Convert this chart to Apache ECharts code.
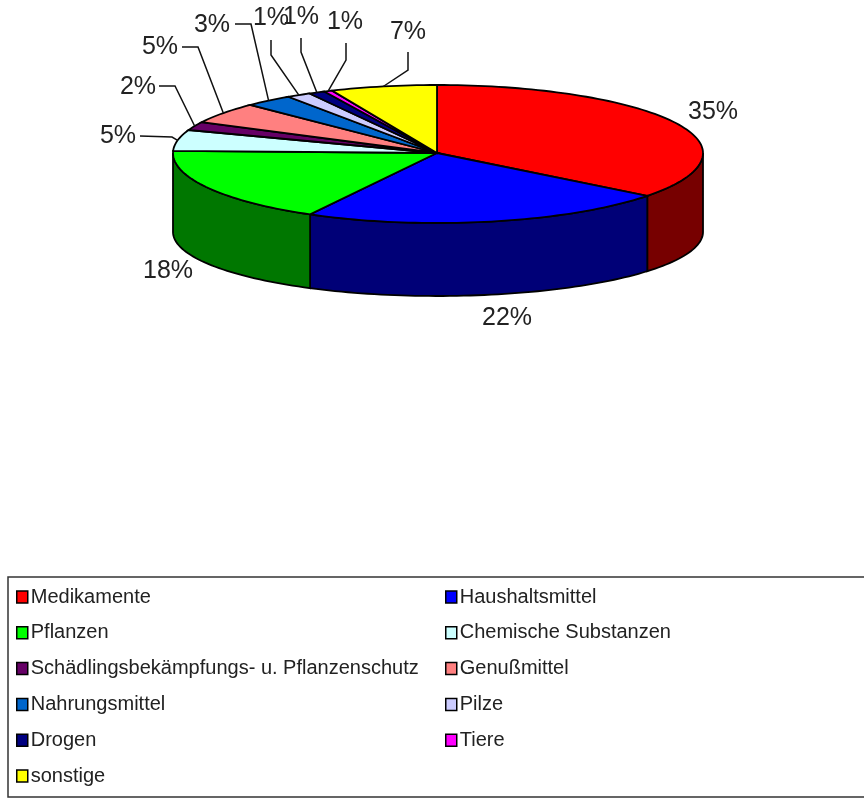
<!DOCTYPE html>
<html>
<head>
<meta charset="utf-8">
<style>
  html, body { margin: 0; padding: 0; background: #fff; }
  #chart { width: 864px; height: 798px; }
</style>
<script src="https://cdn.jsdelivr.net/npm/echarts@6/dist/echarts.min.js"></script>
</head>
<body>
<div id="chart"></div>
<script>
const categories = ["Medikamente", "Haushaltsmittel", "Pflanzen", "Chemische Substanzen",
  "Schädlingsbekämpfungs- u. Pflanzenschutz", "Genußmittel", "Nahrungsmittel", "Pilze",
  "Drogen", "Tiere", "sonstige"];
// labels in the picture are rounded, these are read from the slice edges
const shares = [35.49, 22.49, 17.51, 5, 2, 5, 3, 1.49, 1, 0.51, 6.51];

const topColors = ["#ff0000", "#0000ff", "#00ff00", "#ccffff", "#660066", "#ff8080",
  "#0066cc", "#ccccff", "#000080", "#ff00ff", "#ffff00"];
const wallColors = ["#770000", "#000077", "#007700", "#668080", "#330033", "#804040",
  "#003366", "#666680", "#000040", "#800080", "#808000"];

// where each percent label sits, and the leader line from it towards the rim
const labelSpots = [[713, 112], [507, 318], [168, 271], [118, 136], [138, 87], [160, 47],
  [212, 25], [271, 18], [301, 17], [345, 22], [408, 32]];
const leaders = [null, null, null,
  [[140, 136], [172, 137]],
  [[159, 86], [175, 86]],
  [[182, 47], [198, 47]],
  [[235, 24], [251, 24]],
  [[271, 40], [271, 55]],
  [[301, 38], [301, 52]],
  [[346, 43], [346, 60]],
  [[408, 52], [408, 70], [384, 86]]];

const leftLegend = categories.filter((_, i) => i % 2 === 0);
const rightLegend = categories.filter((_, i) => i % 2 === 1);

const FONT = '"Liberation Sans", Arial, sans-serif';
const center = [437, 153];
const rim = { cx: 437, rxRight: 266, rxLeft: 264, cy: 153, ryBack: 68, ryFront: 70 };
const floor = { cy: 232, ry: 64 };

const total = shares.reduce((a, b) => a + b, 0);

function rimX(a) {
  const s = Math.sin(a);
  return rim.cx + (s > 0 ? rim.rxRight : rim.rxLeft) * s;
}

function topPoint(deg) {
  const a = deg * Math.PI / 180;
  const c = Math.cos(a);
  return [rimX(a), rim.cy - (c > 0 ? rim.ryBack : rim.ryFront) * c];
}

function floorPoint(deg) {
  const a = deg * Math.PI / 180;
  return [rimX(a), floor.cy - floor.ry * Math.cos(a)];
}

function arc(fn, from, to) {
  const pts = [];
  const steps = Math.max(2, Math.ceil((to - from) / 1.5));
  for (let k = 0; k <= steps; k++) pts.push(fn(from + (to - from) * k / steps));
  return pts;
}

function sliceItem(index, api) {
  const before = shares.slice(0, index).reduce((a, b) => a + b, 0);
  const start = before / total * 360;
  const end = start + api.value(0) / total * 360;
  const children = [];
  const line = { stroke: "#000", lineWidth: 1.8 };

  // only the front half of the disc shows a wall
  const wallFrom = Math.max(start, 90);
  const wallTo = Math.min(end, 270);
  if (wallTo > wallFrom) {
    children.push({
      type: "polygon",
      shape: { points: arc(topPoint, wallFrom, wallTo).concat(arc(floorPoint, wallFrom, wallTo).reverse()) },
      style: { fill: wallColors[index], ...line },
    });
  }

  children.push({
    type: "polygon",
    shape: { points: [center].concat(arc(topPoint, start, end)) },
    style: { fill: topColors[index], ...line },
  });

  if (leaders[index]) {
    children.push({
      type: "polyline",
      shape: { points: leaders[index].concat([topPoint((start + end) / 2)]) },
      style: { fill: null, stroke: "#111", lineWidth: 1.5 },
    });
  }

  children.push({
    type: "text",
    style: {
      text: Math.round(api.value(0) / total * 100) + "%",
      x: labelSpots[index][0],
      y: labelSpots[index][1],
      align: "center",
      verticalAlign: "middle",
      fill: "#222",
      font: "25px " + FONT,
    },
  });

  return { type: "group", children };
}

const chart = echarts.init(document.getElementById("chart"));

function legendBlock(names, left) {
  return {
    data: names,
    orient: "vertical",
    left,
    top: 587,
    padding: 0,
    itemWidth: 11,
    itemHeight: 12,
    itemGap: 15.8,
    selectedMode: false,
    icon: "rect",
    itemStyle: { borderColor: "#000", borderWidth: 1.5 },
    textStyle: { fontFamily: FONT, fontSize: 20, color: "#222", padding: [0, 0, 0, -2], lineHeight: 20, height: 20 },
  };
}

chart.setOption({
  animation: false,
  backgroundColor: "#fff",
  legend: [legendBlock(leftLegend, 16), legendBlock(rightLegend, 445)],
  graphic: [{
    type: "rect",
    z: -1,
    silent: true,
    shape: { x: 8, y: 577, width: 870, height: 220 },
    style: { fill: "#fff", stroke: "#333", lineWidth: 1.5 },
  }],
  series: categories.map((name, i) => ({
    type: "custom",
    name,
    coordinateSystem: "none",
    itemStyle: { color: topColors[i] },
    data: [shares[i]],
    renderItem: (params, api) => sliceItem(i, api),
  })),
});
</script>
</body>
</html>
